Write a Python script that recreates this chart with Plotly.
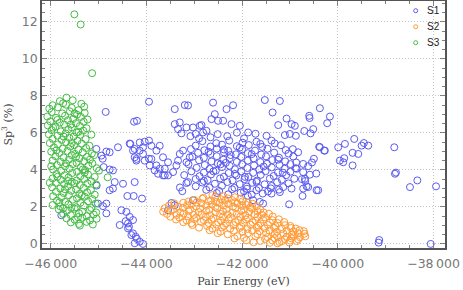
import plotly.graph_objects as go

# (pair energy in eV, sp3 fraction in %)
s1_points = [
    # upper sparse part
    (-43946, 7.68), (-42607, 7.63), (-41525, 7.77), (-41211, 7.72), (-42188, 7.49),
    (-42326, 7.28), (-43408, 7.28), (-43199, 7.50), (-43130, 7.48), (-41364, 7.10),
    (-40375, 7.33), (-40598, 6.92), (-40590, 6.80), (-40165, 6.88), (-40222, 6.52),
    (-42571, 7.01), (-42640, 6.74), (-42502, 6.65), (-42397, 6.65), (-42222, 6.47),
    (-42048, 6.38), (-41874, 6.02), (-42849, 6.42), (-42745, 6.11), (-41246, 6.42),
    (-41071, 6.77), (-40967, 6.47), (-40898, 6.38), (-40514, 6.20), (-40570, 5.97),
    (-44259, 6.60), (-44197, 6.65), (-43408, 6.47), (-43303, 6.56), (-43339, 6.20),
    (-43268, 5.97), (-43163, 6.29), (-43025, 6.29), (-42885, 6.38), (-42816, 6.02),
    (-42969, 5.94), (-41490, 5.84), (-41385, 5.58), (-41106, 5.88), (-41002, 5.94),
    (-40877, 5.84), (-40700, 6.10), (-44851, 7.13),
    (-42660, 5.76), (-42310, 5.82), (-41960, 5.70), (-42510, 5.93), (-42110, 6.01),
    (-41720, 5.95), (-42900, 5.70), (-43080, 5.82),
    # right sparse part
    (-39657, 5.67), (-39851, 5.40), (-39992, 5.22), (-39502, 5.31), (-39455, 5.45),
    (-39364, 5.31), (-38820, 5.22), (-40389, 5.25), (-40285, 5.04), (-39691, 4.92),
    (-39573, 4.86), (-39866, 4.63), (-39957, 4.50), (-39887, 4.41), (-39691, 4.24),
    (-38806, 3.79), (-38785, 3.85), (-38492, 3.07), (-38338, 3.43), (-37948, 3.11),
    (-39134, 0.21), (-39147, 0.07), (-38059, 0.00),
    (-40375, 5.22), (-40271, 5.04), (-40724, 4.32), (-40619, 4.20), (-40584, 3.74),
    (-40724, 3.88), (-40688, 3.52), (-40619, 3.07), (-40444, 2.90), (-40724, 2.99),
    (-40737, 2.59), (-40410, 2.90), (-40653, 3.11), (-40829, 4.95), (-40862, 4.06),
    (-40967, 2.99), (-41017, 2.14), (-41561, 2.18), (-41630, 2.27), (-41211, 2.80),
    (-41385, 2.72), (-41770, 2.36), (-40500, 4.60), (-40450, 3.80), (-40540, 4.40),
    (-40750, 3.50), (-40680, 3.40),
    # left part, next to S3
    (-44349, 5.42), (-45046, 5.13), (-44837, 4.99), (-44941, 4.77), (-44914, 4.60),
    (-44893, 4.15), (-44768, 4.02), (-44663, 3.34), (-44699, 2.99), (-44768, 2.90),
    (-45012, 2.18), (-44908, 2.04), (-44837, 1.65), (-45778, 1.55), (-45040, 3.15),
    (-44489, 3.25), (-44245, 3.34), (-44398, 2.59), (-44266, 2.59), (-44092, 2.45),
    (-44523, 1.82), (-44418, 1.73), (-44558, 1.02), (-44385, 1.11), (-44385, 0.84),
    (-44280, 0.57), (-44224, 0.39), (-44314, 0.48), (-44197, 0.27), (-44140, 0.12),
    (-44245, 0.04), (-44071, 0.00), (-44349, 1.46), (-44280, 1.29), (-44433, 1.23),
    (-44364, 0.93), (-44768, 4.95), (-44594, 5.22), (-44245, 5.13), (-44071, 5.22),
    (-44209, 4.59), (-44036, 4.50), (-43896, 4.59), (-43791, 5.04), (-43931, 4.24),
    (-43791, 4.24), (-43757, 3.79), (-44837, 2.18), (-44699, 3.97),
    (-44335, 5.40), (-44140, 5.48), (-44036, 5.52), (-43946, 5.58), (-43896, 5.30),
    (-43722, 5.30), (-44280, 5.04), (-44245, 4.68), (-44140, 5.04), (-44071, 4.86),
    (-44209, 4.50), (-43946, 4.60),
    # left lobe of the main cloud
    (-43653, 4.68), (-43548, 4.41), (-43372, 4.24), (-43722, 4.06), (-43617, 3.70),
    (-43443, 3.88), (-43339, 4.50), (-43163, 4.41), (-43130, 3.34), (-43303, 4.86),
    (-43234, 5.04), (-43095, 4.68), (-43826, 3.97), (-43617, 4.06), (-43548, 3.70),
    (-43653, 3.70), (-43163, 3.29), (-43477, 2.21), (-43408, 2.09), (-43548, 1.82),
    (-43025, 2.36), (-43300, 3.05), (-43250, 2.85),
    # main cloud
    (-42830, 5.55), (-42540, 5.44), (-42270, 5.58), (-41990, 5.47), (-41700, 5.52), (-41320, 5.43),
    (-42970, 5.31), (-42660, 5.26), (-42420, 5.36), (-42110, 5.28), (-41860, 5.34), (-41580, 5.24),
    (-41190, 5.33),
    (-43070, 5.12), (-42790, 5.06), (-42530, 5.15), (-42290, 5.03), (-42000, 5.11), (-41730, 5.04),
    (-41470, 5.14), (-41090, 5.07), (-40940, 5.12),
    (-42920, 4.92), (-42660, 4.86), (-42380, 4.95), (-42130, 4.84), (-41880, 4.90), (-41600, 4.83),
    (-41330, 4.93), (-41030, 4.88),
    (-43040, 4.71), (-42800, 4.65), (-42530, 4.74), (-42260, 4.63), (-42020, 4.70), (-41760, 4.62),
    (-41500, 4.73), (-41230, 4.66), (-40930, 4.72),
    (-42900, 4.52), (-42640, 4.45), (-42390, 4.55), (-42110, 4.43), (-41880, 4.50), (-41620, 4.42),
    (-41370, 4.53), (-41100, 4.46), (-40870, 4.40),
    (-43120, 4.31), (-42780, 4.26), (-42510, 4.35), (-42260, 4.22), (-42000, 4.30), (-41750, 4.24),
    (-41480, 4.33), (-41220, 4.27), (-40990, 4.31),
    (-42950, 4.11), (-42680, 4.05), (-42420, 4.15), (-42150, 4.03), (-41890, 4.10), (-41640, 4.02),
    (-41380, 4.13), (-41110, 4.06), (-40880, 4.09),
    (-43060, 3.92), (-42800, 3.85), (-42550, 3.95), (-42280, 3.83), (-42020, 3.91), (-41770, 3.84),
    (-41510, 3.93), (-41250, 3.86), (-40990, 3.90),
    (-43210, 3.72), (-42890, 3.66), (-42650, 3.75), (-42380, 3.63), (-42120, 3.70), (-41870, 3.62),
    (-41610, 3.73), (-41340, 3.67), (-41080, 3.71),
    (-42970, 3.51), (-42720, 3.45), (-42460, 3.54), (-42200, 3.43), (-41950, 3.50), (-41690, 3.42),
    (-41420, 3.53), (-41170, 3.47), (-40910, 3.52),
    (-42830, 3.31), (-42570, 3.25), (-42310, 3.34), (-42050, 3.23), (-41790, 3.30), (-41530, 3.22),
    (-41270, 3.33), (-41030, 3.27),
    (-42970, 3.11), (-42680, 3.05), (-42420, 3.14), (-42160, 3.03), (-41900, 3.10), (-41650, 3.02),
    (-41380, 3.13), (-41140, 3.07),
    (-42750, 2.92), (-42480, 2.86), (-42210, 2.95), (-41960, 2.84), (-41700, 2.90), (-41460, 2.83),
    (-41230, 2.93),
    (-42530, 2.75), (-42290, 2.68), (-42030, 2.77), (-41800, 2.66), (-41570, 2.72), (-41880, 2.60),
    (-42700, 4.98), (-42340, 4.38), (-41940, 3.62), (-41550, 4.18), (-42150, 3.78), (-41400, 3.00),
    (-42600, 3.92), (-41800, 4.85), (-41150, 3.85), (-42450, 4.30), (-41700, 3.35), (-42050, 5.20),
    (-41250, 4.55), (-42800, 3.40), (-41900, 2.98), (-42380, 5.10), (-41620, 5.40), (-42240, 4.80),
]

s2_points = [
    (-42620, 2.64), (-42390, 2.57),
    (-42810, 2.49), (-42560, 2.54), (-42300, 2.46), (-42150, 2.52),
    (-43000, 2.38), (-42830, 2.44), (-42650, 2.35), (-42440, 2.41), (-42210, 2.37), (-42040, 2.44),
    (-43120, 2.29), (-42950, 2.24), (-42700, 2.31), (-42540, 2.27), (-42360, 2.34), (-42150, 2.25),
    (-41990, 2.30), (-41880, 2.22),
    (-43420, 2.19), (-43230, 2.22), (-43060, 2.14), (-42850, 2.20), (-42630, 2.13), (-42470, 2.21),
    (-42290, 2.16), (-42100, 2.19), (-41920, 2.12), (-41780, 2.17),
    (-43530, 2.07), (-43340, 2.01), (-43150, 2.09), (-42960, 2.03), (-42750, 2.06), (-42560, 1.99),
    (-42380, 2.08), (-42190, 2.02), (-42000, 2.05), (-41830, 1.98), (-41690, 2.04),
    (-43620, 1.93), (-43440, 1.87), (-43240, 1.95), (-43090, 1.86), (-42880, 1.91), (-42690, 1.84),
    (-42520, 1.92), (-42330, 1.88), (-42140, 1.94), (-41960, 1.85), (-41790, 1.90), (-41620, 1.86),
    (-43650, 1.74), (-43490, 1.78), (-43290, 1.70), (-43120, 1.77), (-42910, 1.72), (-42750, 1.79),
    (-42560, 1.71), (-42400, 1.76), (-42200, 1.69), (-42020, 1.78), (-41850, 1.73), (-41680, 1.77),
    (-41550, 1.70),
    (-43570, 1.62), (-43370, 1.56), (-43220, 1.64), (-43010, 1.57), (-42840, 1.61), (-42670, 1.55),
    (-42460, 1.63), (-42300, 1.58), (-42110, 1.62), (-41930, 1.54), (-41740, 1.60), (-41590, 1.57),
    (-41440, 1.63),
    (-43500, 1.47), (-43310, 1.42), (-43130, 1.49), (-42960, 1.43), (-42760, 1.46), (-42600, 1.40),
    (-42400, 1.48), (-42240, 1.44), (-42040, 1.47), (-41880, 1.41), (-41680, 1.46), (-41520, 1.43),
    (-41360, 1.48),
    (-43380, 1.32), (-43160, 1.27), (-43000, 1.34), (-42800, 1.28), (-42640, 1.31), (-42440, 1.25),
    (-42280, 1.33), (-42080, 1.29), (-41920, 1.32), (-41720, 1.26), (-41560, 1.31), (-41360, 1.28),
    (-41230, 1.33),
    (-43230, 1.17), (-43060, 1.12), (-42860, 1.19), (-42700, 1.13), (-42500, 1.16), (-42340, 1.10),
    (-42140, 1.18), (-41980, 1.14), (-41780, 1.17), (-41620, 1.11), (-41420, 1.16), (-41260, 1.13),
    (-41120, 1.18),
    (-43040, 1.02), (-42730, 0.97), (-42540, 1.04), (-42380, 0.98), (-42180, 1.01), (-42020, 0.95),
    (-41820, 1.03), (-41660, 0.99), (-41460, 1.02), (-41300, 0.96), (-41100, 1.01), (-40990, 0.97),
    (-42900, 0.88), (-42620, 0.83), (-42420, 0.89), (-42250, 0.82), (-42050, 0.86), (-41890, 0.81),
    (-41690, 0.88), (-41530, 0.84), (-41330, 0.87), (-41170, 0.81), (-40980, 0.86), (-40880, 0.83),
    (-42680, 0.74), (-42450, 0.67), (-42170, 0.72), (-41990, 0.66), (-41790, 0.73), (-41630, 0.69),
    (-41430, 0.72), (-41270, 0.66), (-41070, 0.71), (-40930, 0.67), (-40800, 0.74), (-40710, 0.69),
    (-42510, 0.58), (-42300, 0.52), (-41880, 0.57), (-41680, 0.53), (-41500, 0.59), (-41320, 0.54),
    (-41140, 0.57), (-40960, 0.51), (-40830, 0.58), (-40700, 0.55),
    (-42100, 0.42), (-41720, 0.41), (-41470, 0.37), (-41270, 0.44), (-41070, 0.38), (-40920, 0.42),
    (-40790, 0.36), (-40680, 0.41),
    (-42160, 0.30), (-41960, 0.33), (-41520, 0.27), (-41320, 0.31), (-41110, 0.26), (-40970, 0.30),
    (-40830, 0.25),
    (-41910, 0.20), (-41620, 0.16), (-41370, 0.19), (-41170, 0.14), (-41000, 0.18), (-40860, 0.15),
    (-41760, 0.09), (-41420, 0.06), (-41220, 0.10), (-41010, 0.07), (-41260, 0.03),
]

s3_points = [
    (-45506, 12.40), (-45374, 11.85), (-45134, 9.22), (-45150, 5.90),
    (-45670, 7.90), (-45810, 7.71), (-45540, 7.76), (-45360, 7.57), (-45960, 7.49), (-45680, 7.52),
    (-46030, 7.31), (-45850, 7.38), (-45560, 7.35), (-45420, 7.22), (-45300, 7.41),
    (-45980, 7.12), (-45760, 7.05), (-45600, 7.16), (-45450, 6.98), (-45290, 7.08),
    (-46070, 6.88), (-45890, 6.81), (-45700, 6.92), (-45530, 6.75), (-45370, 6.86), (-45230, 6.72),
    (-46010, 6.62), (-45810, 6.55), (-45640, 6.68), (-45470, 6.52), (-45310, 6.60),
    (-46060, 6.40), (-45900, 6.33), (-45720, 6.45), (-45560, 6.29), (-45390, 6.37), (-45250, 6.25),
    (-45980, 6.15), (-45790, 6.08), (-45630, 6.19), (-45460, 6.02), (-45320, 6.12),
    (-46040, 5.92), (-45860, 5.85), (-45690, 5.97), (-45520, 5.80), (-45380, 5.89),
    (-45960, 5.68), (-45770, 5.62), (-45610, 5.73), (-45440, 5.57), (-45270, 5.66),
    (-46020, 5.45), (-45850, 5.38), (-45680, 5.50), (-45510, 5.33), (-45350, 5.42), (-45190, 5.30),
    (-45930, 5.21), (-45750, 5.14), (-45590, 5.26), (-45420, 5.09), (-45260, 5.18),
    (-45990, 4.98), (-45820, 4.91), (-45650, 5.02), (-45490, 4.86), (-45330, 4.95), (-45140, 4.88),
    (-45900, 4.74), (-45730, 4.67), (-45560, 4.79), (-45400, 4.62), (-45240, 4.71), (-45090, 4.80),
    (-45960, 4.50), (-45790, 4.43), (-45620, 4.55), (-45460, 4.38), (-45300, 4.47), (-45130, 4.35),
    (-45870, 4.26), (-45700, 4.19), (-45540, 4.31), (-45370, 4.14), (-45210, 4.23), (-45040, 4.09),
    (-45950, 4.02), (-45780, 3.95), (-45610, 4.07), (-45450, 3.90), (-45280, 3.99), (-44990, 3.96),
    (-45880, 3.78), (-45710, 3.71), (-45550, 3.83), (-45380, 3.66), (-45220, 3.75), (-45080, 3.62),
    (-44810, 3.60),
    (-45960, 3.54), (-45790, 3.47), (-45630, 3.59), (-45460, 3.42), (-45300, 3.51), (-45150, 3.38),
    (-45890, 3.30), (-45720, 3.23), (-45560, 3.35), (-45390, 3.18), (-45230, 3.27), (-45050, 3.21),
    (-45970, 3.06), (-45800, 2.99), (-45640, 3.11), (-45470, 2.94), (-45310, 3.03), (-45160, 2.90),
    (-45890, 2.82), (-45730, 2.75), (-45570, 2.87), (-45400, 2.70), (-45240, 2.79), (-45080, 2.66),
    (-45950, 2.58), (-45780, 2.51), (-45620, 2.63), (-45450, 2.46), (-45290, 2.55), (-45130, 2.42),
    (-45870, 2.34), (-45700, 2.27), (-45540, 2.39), (-45380, 2.22), (-45220, 2.31), (-45060, 2.18),
    (-45960, 2.10), (-45800, 2.03), (-45630, 2.14), (-45470, 1.98), (-45310, 2.07), (-45150, 1.94),
    (-45830, 1.86), (-45660, 1.79), (-45500, 1.90), (-45340, 1.74), (-45180, 1.83), (-45050, 1.70),
    (-45740, 1.62), (-45580, 1.55), (-45410, 1.66), (-45250, 1.50), (-45100, 1.59),
    (-45670, 1.38), (-45500, 1.31), (-45340, 1.42), (-45180, 1.27), (-45040, 1.36),
    (-45580, 1.16), (-45410, 1.08), (-45250, 1.19), (-45120, 1.05), (-45390, 0.99),
    (-45740, 7.60), (-45500, 7.05), (-45860, 6.70), (-45580, 6.45), (-45950, 6.28), (-45420, 6.05),
    (-45730, 5.80), (-45560, 5.45), (-45880, 5.05), (-45470, 4.70), (-45680, 4.35), (-45330, 4.02),
    (-45860, 3.62), (-45500, 3.28), (-45700, 2.95), (-45350, 2.62), (-45820, 2.25), (-45570, 1.95),
    (-45430, 1.45), (-45290, 3.85), (-45180, 4.55), (-45640, 3.40), (-45990, 4.20), (-46020, 3.30),
    (-45740, 1.92),
]

series_names = ["S1", "S2", "S3"]
x_tick_vals = [-46000, -44000, -42000, -40000, -38000]
x_tick_text = ["\u221246\u2009000", "\u221244\u2009000", "\u221242\u2009000",
               "\u221240\u2009000", "\u221238\u2009000"]
y_tick_vals = [0, 2, 4, 6, 8, 10, 12]

BLUE = "#5a5af0"
ORANGE = "#ff9a35"
GREEN = "#44bb44"
FRAME = "#555555"
TICK = "#808080"
GRID = "#c4c4c4"

fig = go.Figure()

# draw order: S1 first, S3 on top
for name, pts, color in zip(series_names, [s1_points, s2_points, s3_points], [BLUE, ORANGE, GREEN]):
    fig.add_trace(go.Scatter(
        x=[p[0] for p in pts], y=[p[1] for p in pts],
        mode="markers", name=name, showlegend=False,
        marker=dict(symbol="circle-open", size=7, color=color, line=dict(width=1)),
    ))

# ── small legend, top right inside the frame ──
for i, (name, color) in enumerate(zip(series_names, [BLUE, ORANGE, GREEN])):
    yp = 0.9607 - i * 0.0648
    fig.add_shape(
        type="circle", xref="paper", yref="paper",
        xsizemode="pixel", ysizemode="pixel", xanchor=0.9273, yanchor=yp,
        x0=-2, x1=2, y0=-2, y1=2,
        line=dict(color=color, width=1),
    )
    fig.add_annotation(
        x=0.951, y=yp, xref="paper", yref="paper", text=name,
        xanchor="left", yanchor="middle", showarrow=False,
        font=dict(family="Liberation Sans", size=10, color="#222222"),
    )

axis_common = dict(
    showline=True, linecolor=FRAME, linewidth=1.6, mirror="allticks",
    ticks="inside", ticklen=5, tickwidth=1, tickcolor=TICK,
    showgrid=True, gridcolor=GRID, griddash="1px,2px", gridwidth=1,
    zeroline=False,
    tickfont=dict(family="DejaVu Sans", size=12.5, color="#777777"),
    title_font=dict(family="DejaVu Serif", size=11, color="#444444"),
)

fig.update_xaxes(
    range=[-46182, -37760], tickvals=x_tick_vals, ticktext=x_tick_text,
    minor=dict(ticks="inside", dtick=500, ticklen=3, tickcolor=TICK, showgrid=False),
    title_text="Pair Energy (eV)", title_standoff=8, ticklabelstandoff=3,
    **axis_common,
)
fig.update_yaxes(
    range=[-0.22, 13.12], tickvals=y_tick_vals,
    minor=dict(ticks="inside", dtick=0.5, ticklen=3, tickcolor=TICK, showgrid=False),
    title_text="Sp<sup>3</sup> (%)", title_standoff=8,
    **axis_common,
)

fig.update_layout(
    width=463, height=290,
    margin=dict(l=42, r=18, t=1, b=42, autoexpand=False),
    plot_bgcolor="white", paper_bgcolor="white",
    showlegend=False,
)

fig.write_html(
    "out.html",
    config={"displayModeBar": False},
    post_script="document.body.style.margin='0px';document.body.style.overflow='hidden';",
)
